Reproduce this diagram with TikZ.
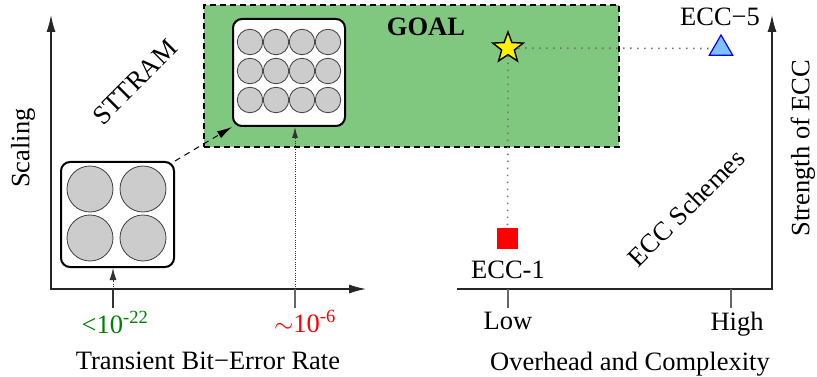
\documentclass[tikz,border=0pt]{standalone}
\usepackage{fontspec}
\setmainfont{Liberation Serif}
\usetikzlibrary{arrows.meta,shapes.geometric}
\definecolor{goalgreen}{RGB}{128,200,128}
\definecolor{cellgray}{RGB}{204,204,204}
\definecolor{trifill}{RGB}{128,192,255}
\definecolor{lblgreen}{RGB}{0,128,0}
\begin{document}
\begin{tikzpicture}[x=1pt,y=-1pt,
  lbl/.style={font=\fontsize{26.5}{30}\selectfont, inner sep=0pt},
  cell/.style={circle, draw=black!75, fill=cellgray, line width=0.8pt, inner sep=0pt},
  chip/.style={draw=black, line width=2pt, rounded corners=9pt, fill=white, inner sep=0pt},
  axis/.style={line width=1.2pt, black!85},
  tickl/.style={line width=1.2pt, black!60},
  dotl/.style={line width=1.6pt, black!55, dash pattern=on 1.6pt off 5.4pt},
  finedot/.style={line width=0.9pt, black!55, dash pattern=on 1pt off 1.2pt},
  ]
\useasboundingbox (0,0) rectangle (817,377);
% goal region
\node[draw=black, line width=1.2pt, dash pattern=on 6pt off 4pt, fill=goalgreen,
      minimum width=415pt, minimum height=142pt, inner sep=0pt] (goal) at (411.5,76) {};
\node[lbl, font=\fontsize{26.5}{30}\selectfont\bfseries, anchor=base] (goaltxt) at (426,36) {GOAL};
% left axes
\coordinate (lo) at (51,289);
\coordinate (ly) at (51,15);
\coordinate (lx) at (366,289);
\draw[axis, {Latex[length=17pt,width=9pt]}-{Latex[length=17pt,width=9pt]}] (ly) -- (lo) -- (lx);
\node[lbl, rotate=90] (scaling) at (23,148) {Scaling};
\node[lbl, rotate=45] (sttram) at (135,82) {STTRAM};
\node[lbl, anchor=base] (ber) at (208,369) {Transient Bit−Error Rate};
% ticks
\coordinate (t1) at (113,289);
\coordinate (t1b) at (113,308);
\coordinate (t2) at (295,289);
\coordinate (t2b) at (295,308);
\draw[line width=1.2pt, black!80] (t1) -- (t1b);
\draw[tickl] (t2) -- (t2b);
\node[lbl, anchor=base, text=lblgreen] (l22) at (115,333) {<10\textsuperscript{-22}};
\node[lbl, anchor=base, text=red] (l6) at (305,332) {$\sim$10\textsuperscript{-6}};
% small chip
\node[chip, minimum width=113pt, minimum height=105pt] (small) at (117.5,214.5) {};
\foreach \x/\y [count=\i] in {90/189,143/189,90/238,143/238}
  \node[cell, minimum size=46pt] (s\i) at (\x,\y) {};
% big chip
\node[chip, minimum width=112pt, minimum height=107pt] (big) at (289,72.5) {};
\foreach \y [count=\r] in {42,71,100}
  \foreach \x [count=\c] in {250,276,302,328}
    \node[cell, minimum size=25.5pt] (b\r\c) at (\x,\y) {};
% arrows to chips
\draw[finedot, black!80, -{Latex[length=12pt,width=7pt]}] (t1) -- (t1 |- small.south);
\draw[finedot, black!80, -{Latex[length=11pt,width=6pt]}] (t2) -- (t2 |- big.south);
\draw[line width=1pt, dash pattern=on 6pt off 5pt, -{Latex[length=15pt,width=8pt]}] (small.north east) -- (big.south west);
% right axes
\coordinate (ro) at (772,289);
\coordinate (rx) at (457,289);
\coordinate (ry) at (772,15);
\draw[axis, -{Latex[length=17pt,width=9pt]}] (rx) -- (ro) -- (ry);
\coordinate (t3) at (508,289);
\coordinate (t3b) at (508,308);
\coordinate (t4) at (731,289);
\coordinate (t4b) at (731,308);
\draw[tickl] (t3) -- (t3b);
\draw[tickl] (t4) -- (t4b);
\node[lbl, anchor=base] (low) at (508,329) {Low};
\node[lbl, anchor=base] (high) at (737,330) {High};
\node[lbl, anchor=base] (ovh) at (630,370) {Overhead and Complexity};
\node[lbl, rotate=90] (strength) at (803,148) {Strength of ECC};
\node[lbl, rotate=45] (eccs) at (686,208) {ECC Schemes};
% markers
\node[star, star points=5, star point ratio=2.4, minimum size=32pt, inner sep=0pt,
      draw=black, line width=1.4pt, fill=yellow] (star) at (508,48) {};
\node[regular polygon, regular polygon sides=3, minimum size=27pt, inner sep=0pt,
      draw=blue, line width=1.2pt, fill=trifill] (tri) at (721,48.5) {};
\node[rectangle, minimum size=21pt, inner sep=0pt, fill=red] (sq) at (507.5,238.5) {};
\node[lbl, anchor=base] (ecc5) at (720,26) {ECC−5};
\node[lbl, anchor=base] (ecc1) at (508,278) {ECC-1};
\draw[dotl] (star) -- (tri);
\draw[dotl] (star) -- (sq);
\end{tikzpicture}
\end{document}
